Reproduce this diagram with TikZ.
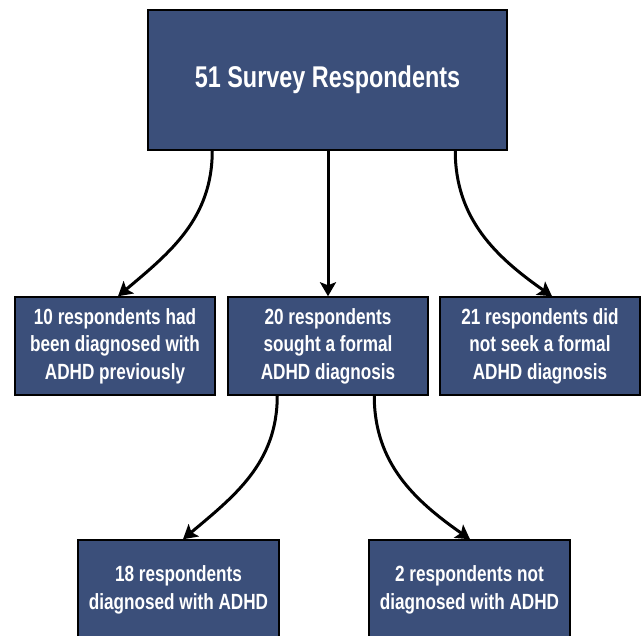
\documentclass[tikz,border=0pt]{standalone}
\usepackage{fontspec}
\newfontfamily\condfont[FakeStretch=0.78]{Liberation Sans}
\usetikzlibrary{arrows.meta,calc}
\definecolor{boxblue}{RGB}{59,79,122}
\tikzset{
  box/.style={draw=black, line width=1.5pt, fill=boxblue, text=white, rectangle,
    inner sep=0pt, align=center, font=\condfont\bfseries\fontsize{22}{27.5}\selectfont},
  arr/.style={line width=3pt, -{Stealth[length=14pt,width=16pt,inset=3pt]}}
}
\begin{document}
\begin{tikzpicture}[x=1pt,y=-1pt]
\useasboundingbox (0,0) rectangle (642,635);
\clip (0,0) rectangle (642,635);
\node[box, minimum width=359pt, minimum height=140pt, font=\condfont\bfseries\fontsize{30}{36}\selectfont] (top) at (327.5,80) {51 Survey Respondents};
\node[box, minimum width=200pt, minimum height=98pt] (a) at (115,346) {10 respondents had\\been diagnosed with\\ADHD previously};
\node[box, minimum width=200pt, minimum height=98pt] (b) at (328,346) {20 respondents\\sought a formal\\ADHD diagnosis};
\node[box, minimum width=200pt, minimum height=98pt] (c) at (540,346) {21 respondents did\\not seek a formal\\ADHD diagnosis};
\node[box, minimum width=201pt, minimum height=100pt] (d) at (178.5,590) {18 respondents\\diagnosed with ADHD};
\node[box, minimum width=201pt, minimum height=100pt] (e) at (469.5,590) {2 respondents not\\diagnosed with ADHD};
\draw[arr] ($(top.south west)+(65,0)$) to[out=-90,in=40] ($(a.north)+(3,0)$);
\draw[arr] (top.south -| b.north) -- (b.north);
\draw[arr] ($(top.south west)+(308,0)$) to[out=-90,in=145] ($(c.north)+(12,0)$);
\draw[arr] ($(b.south west)+(50,0)$) to[out=-90,in=40] ($(d.north)+(4.5,0)$);
\draw[arr] ($(b.south west)+(147,0)$) to[out=-90,in=145] ($(e.north)+(0.5,0)$);
\end{tikzpicture}
\end{document}
